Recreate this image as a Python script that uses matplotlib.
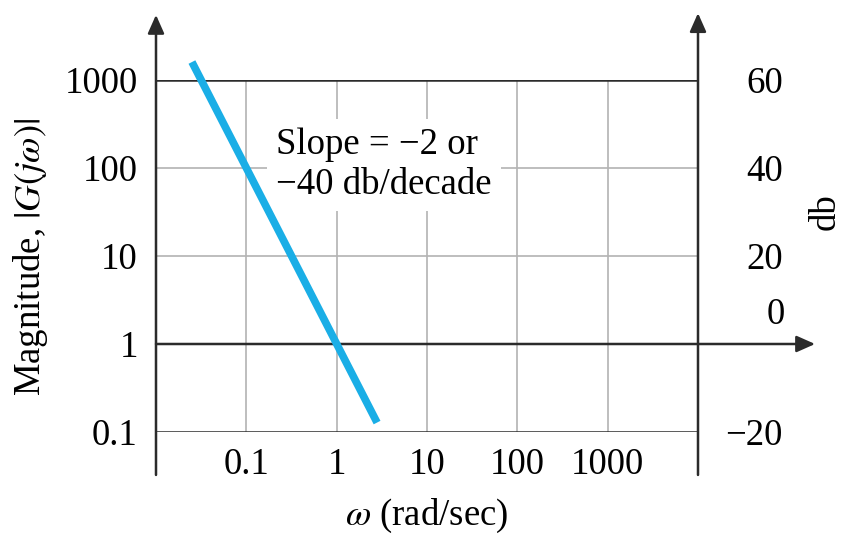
import matplotlib
matplotlib.use('Agg')
import matplotlib.pyplot as plt
from matplotlib.transforms import blended_transform_factory

plt.rcParams['font.family'] = 'Liberation Serif'
plt.rcParams['mathtext.fontset'] = 'stix'
plt.rcParams['font.size'] = 26.5

# ----- dados
omega = [0.025, 2.8]
magnitude = [1600, 0.128]

freq_ticks = [0.1, 1, 10, 100, 1000]
freq_labels = ['0.1', '1', '10', '100', '1000']
mag_ticks = [0.1, 1, 10, 100, 1000]
mag_labels = ['0.1', '1', '10', '100', '1000']
db_ticks = [-20, 20, 40, 60]
db_labels = ['\u221220', '20', '40', '60']

preto = '#2b2b2b'
cinza = '#b3b3b3'
azul = '#1aaee6'

fig = plt.figure(figsize=(8.43, 5.37), dpi=100)
ax = fig.add_axes([156 / 843, 1 - 432 / 537, 542 / 843, 352 / 537])
ax.set_xscale('log')
ax.set_yscale('log')
ax.set_xlim(0.01, 1e4)
ax.set_ylim(0.1, 1000)
for s in ax.spines.values():
    s.set_visible(False)

# grade
for f in freq_ticks:
    ax.axvline(f, color=cinza, lw=1.2, zorder=1)
for m in [10, 100]:
    ax.axhline(m, color=cinza, lw=1.2, zorder=1)
for m in [0.1, 1000]:
    ax.axhline(m, color=preto, lw=1.8, zorder=2)

# eixos com setas
seta = dict(arrowstyle='-|>,head_length=0.45,head_width=0.2', color=preto,
            lw=1.8, mutation_scale=25, shrinkA=0, shrinkB=0)
ax.annotate('', xy=(0, 1.185), xytext=(0, -0.122), xycoords='axes fraction',
            arrowprops=seta, zorder=3)
ax.annotate('', xy=(1, 1.19), xytext=(1, -0.122), xycoords='axes fraction',
            arrowprops=seta, zorder=3)
ax.annotate('', xy=(1.216, 1), xytext=(0, 1),
            xycoords=('axes fraction', 'data'), arrowprops=seta, zorder=3)

# curva assintotica
ax.plot(omega, magnitude, color=azul, lw=5.5, solid_capstyle='butt',
        clip_on=False, zorder=6)

ax.text(0.215, 108, 'Slope = \u22122 or\n\u221240 db/decade', ha='left',
        va='center', linespacing=1.2, zorder=5,
        bbox=dict(facecolor='white', edgecolor='none', boxstyle='square,pad=0.25'))

# ticks
ax.minorticks_off()
ax.set_xticks(freq_ticks, freq_labels)
ax.set_yticks(mag_ticks, mag_labels)
ax.tick_params(axis='x', length=0, pad=11)
ax.tick_params(axis='y', length=0, pad=13)

ax2 = ax.twinx()
ax2.set_ylim(-20, 60)
for s in ax2.spines.values():
    s.set_visible(False)
ax2.set_yticks(db_ticks, db_labels)
ax2.tick_params(axis='y', length=0, pad=61)
for lbl in ax2.get_yticklabels():
    lbl.set_horizontalalignment('right')
trans = blended_transform_factory(ax2.transAxes, ax2.transData)
ax2.text(1.16, 6.6, '0', ha='right', va='center', transform=trans)

fig.text(30 / 843, 1 - 257 / 537, r'Magnitude, $|G(j\omega)|$', rotation=90,
         ha='center', va='center')
fig.text(825 / 843, 1 - 212 / 537, 'db', rotation=90, ha='center', va='center')
fig.text(427 / 843, 1 - 516 / 537, r'$\omega$ (rad/sec)', ha='center', va='center')

fig.savefig('out.png', dpi=100, facecolor='white')
